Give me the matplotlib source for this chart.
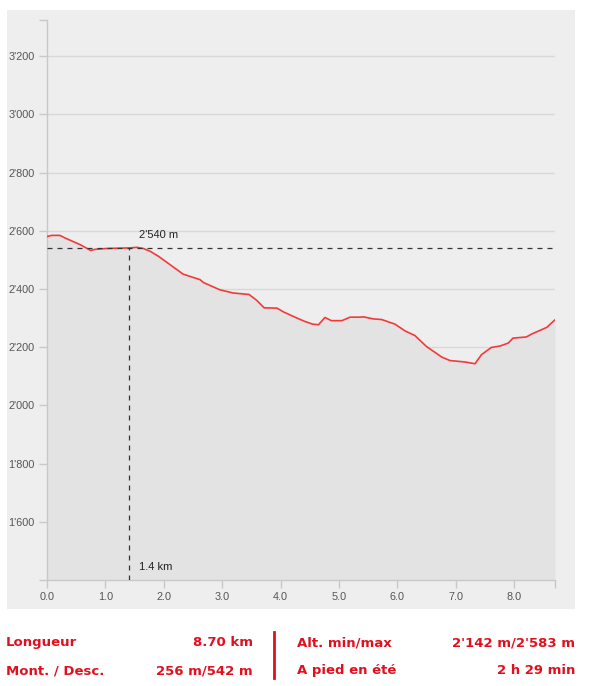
import numpy as np
import matplotlib
matplotlib.use('Agg')
import matplotlib.pyplot as plt
from matplotlib.patches import Rectangle
from matplotlib.ticker import FuncFormatter

# profil altimetrique (km, m)
dist = [0.0, 0.08, 0.22, 0.31, 0.57, 0.75, 0.82, 1.02, 1.42, 1.54, 1.65, 1.77,
        1.91, 2.11, 2.33, 2.45, 2.62, 2.68, 2.96, 3.19, 3.46, 3.59, 3.72, 3.94,
        4.05, 4.28, 4.42, 4.55, 4.65, 4.76, 4.87, 5.05, 5.19, 5.36, 5.42, 5.59,
        5.73, 5.96, 6.13, 6.30, 6.50, 6.76, 6.90, 7.16, 7.33, 7.44, 7.61, 7.76,
        7.90, 7.98, 8.21, 8.30, 8.56, 8.70]
alt = [2580, 2584, 2584, 2575, 2552, 2532, 2536, 2539, 2541, 2543, 2539, 2529,
       2512, 2483, 2451, 2443, 2432, 2422, 2397, 2386, 2381, 2361, 2335, 2334,
       2321, 2300, 2288, 2279, 2277, 2302, 2291, 2291, 2303, 2303, 2304, 2297,
       2295, 2279, 2256, 2240, 2202, 2166, 2154, 2149, 2143, 2174, 2199, 2204,
       2214, 2231, 2235, 2245, 2268, 2294]

y_ticks = [1600, 1800, 2000, 2200, 2400, 2600, 2800, 3000, 3200]
x_ticks = [0, 1, 2, 3, 4, 5, 6, 7, 8]
mark_km = 1.4
mark_alt = 2540

stats_left = [('Longueur', '8.70 km'), ('Mont. / Desc.', '256 m/542 m')]
stats_right = [('Alt. min/max', "2'142 m/2'583 m"), ('A pied en été', '2 h 29 min')]

W, H = 599, 686
RED = '#e2101f'
GRID = '#d9d9d9'
AXC = '#c8c8c8'

fig = plt.figure(figsize=(W / 100, H / 100), dpi=100)

def fx(px):
    return px / W

def fy(py):
    return 1 - py / H

# fond gris du graphique
fig.patches.append(Rectangle((fx(7), fy(609)), fx(575) - fx(7), fy(10) - fy(609),
                             transform=fig.transFigure, facecolor='#eeeeee',
                             edgecolor='none', zorder=-5))

ax = fig.add_axes([fx(47), fy(580), fx(555) - fx(47), fy(20) - fy(580)])
ax.set_zorder(2)
ax.set_facecolor('none')
ax.set_xlim(0, 8.7)
ax.set_ylim(1400, 3324)

ax.set_axisbelow(True)
ax.grid(axis='y', color=GRID, linewidth=1)
ax.fill_between(dist, alt, 1400, color='#e3e3e3', zorder=1, linewidth=0)
ax.plot(dist, alt, color='#f23a3a', linewidth=1.2, zorder=3)

ax.plot([0, 8.7], [mark_alt, mark_alt], color='#333333', linewidth=0.9,
        dashes=(4, 4), zorder=4)
ax.plot([mark_km, mark_km], [1400, mark_alt], color='#333333', linewidth=0.9,
        dashes=(4, 4), zorder=4)
ax.text(mark_km + 0.18, 2586, "2'540 m", fontsize=8, color='#222222',
        family='Liberation Sans', va='center', ha='left')
ax.text(mark_km + 0.18, 1445, '1.4 km', fontsize=8, color='#222222',
        family='Liberation Sans', va='center', ha='left')

ax.set_yticks(y_ticks)
ax.yaxis.set_major_formatter(FuncFormatter(lambda v, p: f"{int(v):,}".replace(',', "'")))
ax.set_yticks([1400, 3324], minor=True)
ax.set_xticks(x_ticks)
ax.set_xticklabels([f'{v:.1f}' for v in x_ticks])
ax.set_xticks([8.7], minor=True)

for s in ['top', 'right']:
    ax.spines[s].set_visible(False)
for s in ['left', 'bottom']:
    ax.spines[s].set_color(AXC)
    ax.spines[s].set_linewidth(1)
ax.tick_params(axis='both', which='both', color=AXC, length=6, width=1,
               labelsize=7.8, labelcolor='#555555', pad=3)
for lab in ax.get_xticklabels() + ax.get_yticklabels():
    lab.set_family('Liberation Sans')

# resume du parcours
rows_y = [646, 674]
for (lab, val), yy in zip(stats_left, rows_y):
    fig.text(fx(6), fy(yy), lab, color=RED, fontsize=9.5, fontweight='bold',
             family='DejaVu Sans', va='baseline', ha='left')
    fig.text(fx(253), fy(yy), val, color=RED, fontsize=9.5, fontweight='bold',
             family='DejaVu Sans', va='baseline', ha='right')
for (lab, val), yy in zip(stats_right, rows_y):
    fig.text(fx(297), fy(yy), lab, color=RED, fontsize=9.5, fontweight='bold',
             family='DejaVu Sans', va='baseline', ha='left')
    fig.text(fx(575), fy(yy), val, color=RED, fontsize=9.5, fontweight='bold',
             family='DejaVu Sans', va='baseline', ha='right')
fig.add_artist(plt.Line2D([fx(274), fx(274)], [fy(632), fy(678)],
                          transform=fig.transFigure, color=RED, linewidth=2))

fig.savefig('out.png', dpi=100)
